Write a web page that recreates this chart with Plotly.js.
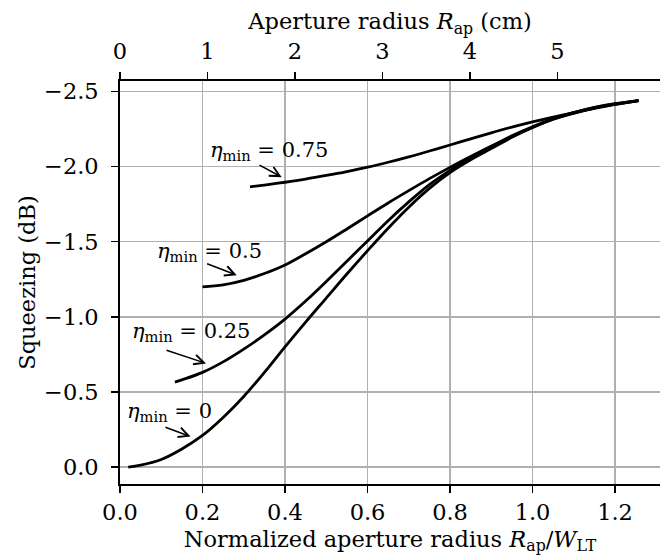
<!DOCTYPE html>
<html>
<head>
<meta charset="utf-8">
<script src="https://cdn.plot.ly/plotly-3.0.1.min.js"></script>
<style>html,body{margin:0;padding:0;background:#fff;}#chart{width:660px;height:558px;}</style>
</head>
<body>
<div id="chart"></div>
<script>
// Normalized aperture radius R_ap/W_LT and squeezing (dB) for each eta_min
const x_eta0   = [0.02, 0.05, 0.10, 0.15, 0.20, 0.25, 0.30, 0.35, 0.40, 0.45, 0.50, 0.55, 0.60, 0.65, 0.70, 0.75, 0.80, 0.85, 0.90, 0.95, 1.00, 1.05, 1.10, 1.15, 1.20, 1.257];
const y_eta0   = [0.00, -0.012, -0.05, -0.12, -0.21, -0.33, -0.47, -0.63, -0.80, -0.965, -1.125, -1.285, -1.44, -1.59, -1.73, -1.855, -1.96, -2.045, -2.12, -2.195, -2.26, -2.315, -2.355, -2.39, -2.415, -2.44];
const x_eta025 = [0.133, 0.15, 0.20, 0.25, 0.30, 0.35, 0.40, 0.45, 0.50, 0.55, 0.60, 0.65, 0.70, 0.75, 0.80, 0.85, 0.90, 0.95, 1.00, 1.05, 1.10, 1.15, 1.20, 1.257];
const y_eta025 = [-0.565, -0.58, -0.63, -0.70, -0.785, -0.88, -0.985, -1.105, -1.235, -1.37, -1.505, -1.64, -1.765, -1.88, -1.975, -2.06, -2.135, -2.205, -2.265, -2.32, -2.36, -2.393, -2.417, -2.44];
const x_eta05  = [0.20, 0.25, 0.30, 0.35, 0.40, 0.45, 0.50, 0.55, 0.60, 0.65, 0.70, 0.75, 0.80, 0.85, 0.90, 0.95, 1.00, 1.05, 1.10, 1.15, 1.20, 1.257];
const y_eta05  = [-1.20, -1.213, -1.243, -1.288, -1.345, -1.42, -1.50, -1.585, -1.672, -1.758, -1.84, -1.92, -1.995, -2.067, -2.135, -2.20, -2.26, -2.315, -2.36, -2.395, -2.42, -2.44];
const x_eta075 = [0.315, 0.35, 0.40, 0.45, 0.50, 0.55, 0.60, 0.65, 0.70, 0.75, 0.80, 0.85, 0.90, 0.95, 1.00, 1.05, 1.10, 1.15, 1.20, 1.257];
const y_eta075 = [-1.865, -1.877, -1.896, -1.917, -1.941, -1.967, -1.996, -2.029, -2.065, -2.104, -2.144, -2.185, -2.225, -2.263, -2.298, -2.33, -2.36, -2.388, -2.414, -2.44];

const xTicks = [0.0, 0.2, 0.4, 0.6, 0.8, 1.0, 1.2];
const yTicks = [0.0, -0.5, -1.0, -1.5, -2.0, -2.5];
const cmTicks = [0, 1, 2, 3, 4, 5];

const labels = ['0', '0.25', '0.5', '0.75'];
const labelX = [0.121, 0.173, 0.216, 0.361];
const labelY = [-0.367, -0.898, -1.432, -2.107];
const arrowTailX = [0.109, 0.1115, 0.210, 0.337];
const arrowTailY = [-0.266, -0.779, -1.355, -2.012];
const arrowHeadX = [0.171, 0.2085, 0.283, 0.392];
const arrowHeadY = [-0.203, -0.690, -1.277, -1.930];

const FONT = 'DejaVu Serif, serif';
const FS = 22.5;
const FS_ANN = 21;

function curve(x, y) {
  return {x: x, y: y, mode: 'lines', showlegend: false, hoverinfo: 'skip',
          line: {color: '#000', width: 2.8, shape: 'spline', smoothing: 1}};
}
const traces = [
  curve(x_eta0, y_eta0),
  curve(x_eta025, y_eta025),
  curve(x_eta05, y_eta05),
  curve(x_eta075, y_eta075),
  // invisible trace to activate the top (cm) axis
  {x: [cmTicks[0]], y: [yTicks[0]], xaxis: 'x2', yaxis: 'y', mode: 'markers', marker: {opacity: 0}, showlegend: false, hoverinfo: 'skip'}
];

const annotations = [];
for (let i = 0; i < labels.length; i++) {
  annotations.push({
    x: labelX[i], y: labelY[i], xref: 'x', yref: 'y',
    text: '<i>η</i><sub>min</sub> = ' + labels[i],
    showarrow: false, font: {family: FONT, size: FS_ANN, color: '#000'},
    xanchor: 'center', yanchor: 'middle'
  });
  annotations.push({
    x: arrowHeadX[i], y: arrowHeadY[i], xref: 'x', yref: 'y',
    ax: arrowTailX[i], ay: arrowTailY[i], axref: 'x', ayref: 'y',
    text: ' ', font: {size: 1}, borderpad: 0,
    showarrow: true, arrowhead: 5, arrowsize: 1.3, arrowwidth: 1.5, arrowcolor: '#000'
  });
}

const axisCommon = {
  zeroline: false, showline: true, linecolor: '#000', linewidth: 1.8,
  ticks: 'outside', ticklen: 7, tickwidth: 1.5, tickcolor: '#000',
  tickfont: {family: FONT, size: FS, color: '#000'}
};

const layout = {
  width: 660, height: 558,
  margin: {l: 120, r: 0, t: 81, b: 74, pad: 0},
  paper_bgcolor: '#fff', plot_bgcolor: '#fff',
  font: {family: FONT, size: FS, color: '#000'},
  showlegend: false,
  xaxis: Object.assign({}, axisCommon, {
    range: [0, 1.309], tickvals: xTicks, tickformat: '.1f',
    showgrid: true, gridcolor: '#b0b0b0', gridwidth: 1.5,
    title: {text: 'Normalized aperture radius <i>R</i><sub>ap</sub>/<i>W</i><sub>LT</sub>', font: {family: FONT, size: FS}, standoff: 7}
  }),
  xaxis2: Object.assign({}, axisCommon, {
    overlaying: 'x', side: 'top', anchor: 'y',
    range: [0, 6.171], tickvals: cmTicks, tickformat: 'd', showgrid: false,
    ticklabelstandoff: 4,
    title: {text: 'Aperture radius <i>R</i><sub>ap</sub> (cm)', font: {family: FONT, size: FS}, standoff: 2}
  }),
  yaxis: Object.assign({}, axisCommon, {
    range: [0.113, -2.57], tickvals: yTicks, tickformat: '.1f',
    showgrid: true, gridcolor: '#b0b0b0', gridwidth: 1.5,
    ticklabelstandoff: 8,
    title: {text: 'Squeezing (dB)', font: {family: FONT, size: FS}, standoff: 2}
  }),
  annotations: annotations
};

Plotly.newPlot('chart', traces, layout, {displayModeBar: false, staticPlot: true});
</script>
</body>
</html>
